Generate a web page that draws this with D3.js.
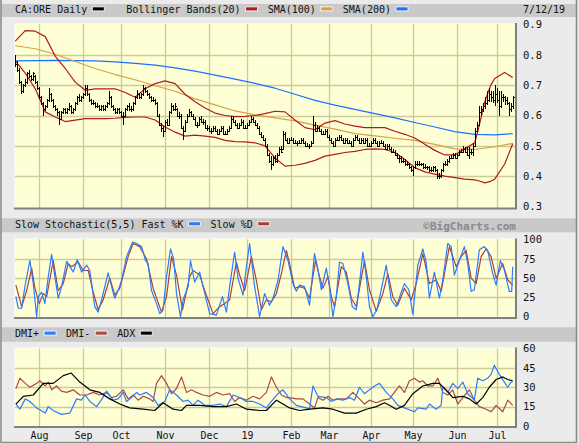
<!DOCTYPE html>
<html>
<head>
<meta charset="utf-8">
<title>CA:ORE Daily</title>
<script src="https://cdn.jsdelivr.net/npm/d3@7"></script>
<style>
  body { margin: 0; background: #ebebeb; }
</style>
</head>
<body>
<script>

// ---- data (index = trading day, 0 = mid Jul 2018, 249 = Jul 12 2019) ----
var monthIdx = [12, 34, 53, 75, 97, 116, 138, 157, 178, 199, 221, 241];
var monthLabels = ["Aug", "Sep", "Oct", "Nov", "Dec", "19", "Feb", "Mar", "Apr", "May", "Jun", "Jul"];

var priceTicks = [0.3, 0.4, 0.5, 0.6, 0.7, 0.8, 0.9];
var stochTicks = [0, 25, 50, 75, 100];
var dmiTicks = [0, 15, 30, 45, 60];

var opens = [
.79,.77,.75,.71,.68,.70,.71,.74,.73,.72, .73,.71,.69,.66,.64,.62,.63,.65,.67,.65,
.63,.62,.61,.59,.61,.62,.61,.62,.63,.61, .62,.64,.66,.65,.66,.67,.69,.67,.65,.64,
.64,.63,.63,.62,.63,.62,.63,.64,.66,.63, .62,.61,.62,.61,.60,.60,.62,.63,.62,.62,
.64,.66,.67,.66,.67,.69,.68,.67,.66,.65, .65,.64,.60,.57,.56,.55,.58,.57,.61,.63,
.62,.62,.60,.60,.56,.55,.58,.60,.61,.60, .59,.57,.57,.59,.58,.58,.56,.56,.55,.55,
.56,.55,.54,.55,.56,.54,.54,.55,.56,.59, .58,.57,.56,.57,.58,.56,.56,.57,.58,.59,
.58,.57,.56,.54,.53,.52,.50,.47,.45,.44, .46,.45,.47,.49,.49,.54,.52,.51,.52,.52,
.51,.51,.51,.51,.52,.51,.50,.50,.50,.51, .57,.55,.56,.55,.54,.54,.55,.53,.52,.51,
.50,.52,.52,.53,.52,.51,.52,.51,.51,.50, .52,.53,.52,.51,.52,.51,.52,.50,.50,.51,
.52,.51,.50,.51,.51,.50,.49,.50,.49,.48, .48,.47,.46,.46,.45,.45,.44,.44,.43,.42,
.43,.44,.44,.44,.44,.43,.43,.43,.42,.42, .43,.42,.40,.40,.42,.44,.44,.45,.46,.46,
.47,.46,.47,.48,.48,.49,.48,.47,.48,.48, .50,.55,.57,.61,.62,.63,.64,.65,.67,.66,
.65,.67,.65,.63,.66,.66,.65,.64,.62,.63];
var highs = [
.80,.78,.755,.715,.705,.72,.745,.75,.735,.745, .735,.715,.695,.665,.645,.635,.655,.69,.675,.655,
.635,.625,.615,.615,.625,.625,.625,.64,.635,.625, .645,.665,.67,.665,.675,.70,.70,.675,.655,.65,
.645,.64,.635,.635,.635,.635,.645,.68,.665,.635, .625,.625,.625,.615,.61,.625,.635,.64,.63,.645,
.665,.685,.675,.675,.70,.695,.685,.675,.665,.66, .655,.645,.605,.575,.565,.585,.59,.615,.64,.635,
.64,.625,.61,.605,.565,.585,.605,.62,.615,.605, .595,.58,.595,.60,.59,.585,.57,.565,.56,.565,
.565,.555,.555,.565,.565,.55,.555,.565,.60,.60, .585,.575,.575,.59,.585,.57,.575,.585,.60,.595,
.585,.575,.565,.545,.535,.525,.505,.475,.465,.465, .47,.475,.495,.50,.55,.545,.525,.525,.53,.525,
.52,.515,.52,.525,.525,.515,.51,.505,.515,.60, .58,.57,.565,.555,.55,.555,.555,.535,.525,.515,
.525,.53,.535,.535,.525,.525,.525,.52,.515,.525, .535,.535,.525,.525,.525,.525,.525,.51,.515,.525,
.525,.515,.515,.52,.515,.505,.505,.505,.495,.49, .485,.475,.47,.465,.46,.455,.45,.445,.435,.435,
.45,.45,.45,.445,.445,.44,.435,.435,.43,.435, .435,.425,.41,.425,.445,.45,.455,.465,.47,.475,
.475,.475,.485,.49,.50,.495,.495,.495,.49,.51, .56,.58,.63,.63,.64,.66,.68,.69,.68,.68,
.70,.69,.68,.68,.67,.665,.66,.645,.64,.665];
var lows = [
.76,.745,.705,.67,.675,.695,.705,.725,.715,.715, .705,.685,.655,.635,.60,.615,.625,.645,.645,.625,
.615,.60,.57,.585,.605,.605,.605,.615,.605,.605, .615,.635,.645,.645,.655,.665,.665,.645,.635,.635,
.625,.625,.615,.615,.615,.615,.625,.635,.625,.615, .605,.605,.605,.595,.57,.595,.615,.615,.61,.615,
.635,.655,.655,.655,.665,.675,.665,.655,.645,.645, .635,.595,.565,.545,.53,.545,.565,.565,.605,.615,
.615,.595,.59,.555,.52,.545,.575,.595,.595,.585, .565,.56,.565,.575,.57,.555,.55,.545,.54,.545,
.545,.535,.535,.545,.535,.535,.535,.545,.555,.575, .565,.555,.555,.565,.555,.555,.555,.565,.575,.575,
.565,.555,.535,.525,.515,.495,.465,.445,.42,.435, .445,.445,.465,.475,.485,.515,.505,.505,.515,.505,
.505,.50,.505,.505,.505,.495,.495,.49,.495,.505, .545,.545,.545,.535,.535,.535,.525,.515,.505,.495,
.495,.515,.515,.515,.505,.505,.505,.505,.495,.495, .515,.515,.505,.505,.505,.505,.495,.495,.495,.505,
.505,.495,.495,.505,.495,.485,.485,.485,.475,.475, .465,.455,.445,.445,.445,.435,.435,.425,.415,.40,
.425,.435,.435,.435,.425,.425,.42,.415,.415,.415, .415,.39,.39,.395,.415,.435,.435,.445,.455,.455,
.455,.455,.465,.475,.475,.475,.465,.455,.47,.465, .50,.545,.57,.60,.61,.62,.635,.645,.645,.64,
.63,.64,.60,.625,.645,.635,.635,.60,.61,.62];
var closes = [
.77,.75,.71,.68,.70,.71,.74,.73,.72,.74, .71,.69,.66,.64,.62,.63,.65,.67,.65,.63,
.62,.61,.59,.61,.62,.61,.62,.63,.61,.62, .64,.66,.65,.66,.67,.69,.67,.65,.64,.64,
.63,.63,.62,.63,.62,.63,.64,.66,.63,.62, .61,.62,.61,.60,.60,.62,.63,.62,.62,.64,
.66,.67,.66,.67,.69,.68,.67,.66,.65,.65, .64,.60,.57,.56,.55,.58,.57,.61,.63,.62,
.63,.60,.60,.56,.55,.58,.60,.61,.60,.59, .57,.57,.59,.58,.58,.56,.56,.55,.55,.56,
.55,.54,.55,.56,.54,.54,.55,.56,.59,.58, .57,.56,.57,.58,.56,.56,.57,.58,.59,.58,
.57,.56,.54,.53,.52,.50,.47,.45,.44,.46, .45,.47,.49,.48,.54,.52,.51,.52,.52,.51,
.51,.51,.51,.52,.51,.50,.50,.50,.51,.57, .55,.56,.55,.54,.54,.55,.53,.52,.51,.50,
.52,.52,.53,.52,.51,.52,.51,.51,.50,.52, .53,.52,.51,.52,.51,.52,.50,.50,.51,.52,
.51,.50,.51,.51,.50,.49,.50,.49,.48,.48, .47,.46,.46,.45,.45,.44,.44,.43,.42,.43,
.44,.44,.44,.44,.43,.43,.43,.42,.42,.43, .42,.40,.40,.42,.44,.44,.45,.46,.46,.47,
.46,.47,.48,.48,.49,.48,.47,.48,.48,.50, .55,.57,.61,.62,.63,.64,.65,.67,.66,.65,
.67,.65,.63,.66,.66,.65,.64,.62,.63,.66];

// bollinger bands (20)
var bbIdx = [0,5,10,15,20,25,30,35,40,45,50,55,60,65,70,75,80,85,90,95,100,105,110,115,120,
  125,130,135,140,145,150,155,160,165,170,175,180,185,190,195,200,205,210,215,220,225,230,232,235,238,240,245,249];
var bbUpper = [.845,.880,.878,.860,.795,.755,.710,.683,.688,.688,.688,.676,.660,.688,.705,.714,.705,.670,.645,.625,.608,.600,.596,.597,.600,
  .606,.614,.612,.585,.560,.553,.575,.583,.572,.565,.560,.560,.560,.548,.538,.526,.505,.485,.470,.470,.490,.510,.560,.645,.700,.722,.742,.725];
var bbLower = [.780,.740,.688,.612,.595,.580,.585,.590,.590,.590,.591,.594,.595,.595,.585,.562,.545,.532,.535,.532,.528,.518,.514,.513,.510,
  .500,.460,.433,.436,.442,.452,.466,.472,.478,.482,.488,.490,.488,.478,.455,.428,.414,.407,.400,.395,.390,.388,.385,.378,.383,.390,.440,.507];

// moving averages
var smaIdx = [0,10,20,30,40,50,60,70,80,90,100,110,120,130,140,150,160,170,180,190,200,210,220,230,240,249];
var sma100 = [.830,.820,.802,.778,.755,.735,.718,.698,.680,.655,.635,.615,.602,.592,.582,.568,.555,.540,.533,.525,.518,.505,.490,.488,.497,.508];
var sma200 = [.780,.781,.782,.781,.780,.777,.772,.766,.757,.746,.733,.720,.706,.690,.670,.650,.634,.620,.606,.592,.577,.562,.547,.538,.536,.540];

// slow stochastic (5,5)
var kIdx = [0.3,1.5,3.2,4.8,7.3,9,10.7,11.5,13.2,14.8, 16.5,18.2,19.8,21.5,23.2,25.7,27.3,29,31,33.2,
  35.7,37.3,39.8,41.5,43.2,46.5,48.2,49.8,51.5,53.2, 55.7,58.7,60.7,63.2,65.2,66.5,68.2,70.7,72.3,74,
  75.7,77.7,79.3,80.7,82.7,84,86.5,87.7,89.8,92.3, 94,97.3,100.7,103.7,105.7,107.3,109.8,111.5,114,115.7,
  117.3,119.8,122.3,124.8,127.3,129,131.5,134,136.5,139, 140.7,142.3,144.8,147.3,149.8,151.5,153.2,155.7,157.3,159,
  160.7,162.3,164,166.5,168.7,170.7,172.3,174,175.7,177.3, 179,181,183.2,185.7,188.2,190.7,192.7,194.8,197,199,
  201.5,204,205.7,207.3,209.8,212.3,214,216.5,218.2,219.8, 222.3,224.8,226.5,228.2,229.8,232.3,234.8,236.5,239,240.7,
  242.8,244.8,247.3,248.5,249];
var kVals = [26,11,11,39,73,43,0,26,32,17, 52,81,52,24,39,72,65,58,74,58,
  67,60,13,6,22,57,39,24,34,47, 78,97,95,91,73,69,34,17,4,9,
  52,88,75,30,0,22,39,73,45,58, 39,4,2,26,6,39,84,50,28,65,
  95,39,0,30,15,24,47,91,73,43, 33,41,39,15,82,61,35,63,39,0,
  26,71,69,43,13,9,43,84,52,13, 0,9,35,67,22,13,28,43,35,3,
  67,88,71,24,58,24,48,95,91,54, 73,91,69,33,35,87,91,86,56,41,
  73,61,33,33,65];
var dIdx = [0.3,3.2,5.7,8.2,9.8,12,14,15.7,19,21.5, 24,26.5,28.2,31.5,34,36.5,39,41.5,44,47.3,
  49.8,52.3,56.5,59,62.3,65.7,69,73.2,75.7,78.2, 80.7,83.7,87.3,89,92.3,94.8,99,102.3,104.8,107.3,
  110.7,112.3,114.8,118.2,120.7,123.2,125.7,128.2,130.7,133.2, 135.7,137.3,139.8,142.3,144.8,147.3,150.3,152.3,154,156.5,
  158.2,159.8,163.2,165.7,168.2,170.7,174.8,177.3,180.7,184, 186.5,189,191.5,194.8,198.2,200.7,204,207.3,210.7,213.2,
  217.3,220.7,223.2,225.7,228.2,230.7,233.2,235.7,238.2,240.7, 244,246.5,249];
var dVals = [41,13,34,63,37,17,30,26,73,34, 43,69,65,71,60,60,32,9,22,50,
  28,37,78,95,91,75,37,6,26,78, 54,9,52,60,54,34,4,13,17,22,
  71,54,34,78,47,9,22,19,30,56, 86,69,37,39,37,24,73,52,37,52,
  26,13,65,58,24,13,73,35,7,30, 56,26,15,37,22,43,82,43,48,33,
  91,65,78,86,50,43,78,88,78,50, 69,48,41];

// DMI
var plusIdx = [0.3,2.3,5,7.3,10.7,15,16.5,19,23,27.3, 30.7,33,35,37.3,40.7,43,45.7,49,51.5,54,
  55.7,58.2,60.7,62.3,65.7,69,71.5,74.8,77.3,80.7, 84,86.5,89,91.5,94.8,99,102.3,105.7,109,112.3,
  115.7,119,122.3,125.7,128.2,131.5,134, 137.3,140.7,145.7,147.3,149,151.5,155.7,158.2,160.7,164,
  167.3,169.8,172.3,174.8,177.3,179.8,182.3,185.7,189,191.5, 194.8,199.8,201.5,205.7,207.3,210.7,213.2,214,216.5,219,
  221.5,224,226.5,229.8,231.5,234,236.5,238.2,239.8,242.3, 244.8,246.5,248.2,249];
var plusVals = [17,13,21,19,14,10,15,12,9,10, 21,20,24,19,15,20,27,20,21,26,
  19,22,26,24,26,22,16,19,28,24, 19,20,16,20,16,16,17,15,24,22,
  19,19,17,14,19,25,28, 21,16,14,13,31,23,22,19,21,20,
  22,20,30,25,28,31,33,26,21,16, 14,11,14,13,17,13,16,30,26,33,
  29,34,25,20,37,35,37,40,47,40, 34,30,34,34];
var minusIdx = [0.3,2.3,5,7.3,10.7,12.3,15,16.5,18.2,20.7, 23,25.7,29,32.3,35.7,39,42.3,45.7,48.2,50.7,
  54,56.5,59,61.5,64,67.3,69,70.7,73.2,75.7, 78.2,80.7,83.2,85.7,88.2,90.7,94,97.3,100.7,104,
  107.3,109.8,112.3,115.7,119,122.3,125.7,128.2,130.7,133.2, 135.7,
  137.3,140.7,144,147.3,149.8,151.5,154,156.5,159,162.3, 165.7,169,172.3,174.8,177.3,180.7,184,187.3,190.7,192.3,
  194.8,197.3,199.8,202.3,204,206.5,209,211.5,214,216.5, 219,221.5,224,227.3,229.8,232.3,235.7,238.2,240.7,244,
  246.5,249];
var minusVals = [29,37,33,30,33,35,31,34,28,31, 27,26,28,24,24,26,24,26,22,23,
  28,21,24,20,23,21,19,33,39,33, 25,29,38,26,28,26,24,23,26,24,
  25,19,22,20,23,21,26,38,30,24, 22,
  22,21,21,17,14,22,20,23,20,21, 21,26,21,17,20,18,20,21,28,31,
  26,35,37,34,35,31,31,37,26,24, 28,17,22,28,20,15,13,11,16,11,
  20,16];
var adxIdx = [0.3,4,9,14,19,24,28,32.3,37.3,42.3,47.3,52.3,57.3,64,69.8,74,79,83.2,85.7,92.3,
  99,105.7,110.7,115.7,122.3,125.7,130.7,134, 137.3,142.3,147.3,154,159,164.8,170.7,175.7,180.7,184.8,
  187.3,190.7,194.8,199,204,209,212.3,215.7,219,224, 227.3,230.7,234,237.3,240.7,244,246.5,249];
var adxVals = [17,23,24,33,33,39,41,34,28,26,21,17,14,13,12,18,13,12,16,16,
  15,15,17,13,12,12,20,17, 14,12,13,14,13,10,10,13,15,18,
  16,13,16,25,31,33,33,28,22,23, 21,17,22,30,36,38,36,35];

// ---- layout ----
var width = 579,
    height = 444,
    plotLeft = 14,
    plotRight = 515,
    plotFill = "#ffffd6",
    gridColor = "#cbcb96",
    headColor = "#c9c9c9",
    font = "DejaVu Sans Mono";

var colors = {bb: "#b01c1c", sma100: "#d8a13e", sma200: "#1f6fff",
              k: "#2a7cff", d: "#a8403a", plus: "#2a7cff", minus: "#a84a44", adx: "#000000"};

var svg = d3.select('body')
  .append('svg')
  .attr('width', width)
  .attr('height', height);

svg.append('rect')
  .attr('width', width)
  .attr('height', height)
  .attr('fill', '#ebebeb');

var x = d3.scaleLinear()
  .domain([0, closes.length - 1])
  .range([15.3, 512.7]);

var panels = [
  {id: 'price', top: 23, bottom: 208, y: d3.scaleLinear().domain([0.3, 0.9]).range([206.5, 24.5]),
   ticks: priceTicks, fmt: d3.format('.1f')},
  {id: 'stoch', top: 238.5, bottom: 317.5, y: d3.scaleLinear().domain([0, 100]).range([316.7, 239.7]),
   ticks: stochTicks, fmt: d3.format('d')},
  {id: 'dmi', top: 347.5, bottom: 426.5, y: d3.scaleLinear().domain([0, 60]).range([426, 348.5]),
   ticks: dmiTicks, fmt: d3.format('d')}
];

var defs = svg.append('defs');

panels.forEach(function(p) {
  defs.append('clipPath').attr('id', 'clip-' + p.id)
    .append('rect')
    .attr('x', plotLeft).attr('y', p.top)
    .attr('width', plotRight - plotLeft).attr('height', p.bottom - p.top);

  svg.append('rect')
    .attr('x', plotLeft).attr('y', p.top)
    .attr('width', plotRight - plotLeft).attr('height', p.bottom - p.top)
    .attr('fill', plotFill);

  var g = svg.append('g').attr('clip-path', 'url(#clip-' + p.id + ')');
  p.g = g;

  // horizontal grid, skip the ends
  g.selectAll('line.hgrid')
    .data(p.ticks.slice(1, -1))
    .enter().append('line')
    .attr('x1', plotLeft).attr('x2', plotRight)
    .attr('y1', function(d) { return Math.round(p.y(d)) + 0.5; })
    .attr('y2', function(d) { return Math.round(p.y(d)) + 0.5; })
    .attr('stroke', gridColor).attr('stroke-width', 1.3);

  // month grid
  g.selectAll('line.vgrid')
    .data(monthIdx)
    .enter().append('line')
    .attr('x1', function(d) { return Math.round(x(d)) + 0.5; })
    .attr('x2', function(d) { return Math.round(x(d)) + 0.5; })
    .attr('y1', p.top).attr('y2', p.bottom)
    .attr('stroke', gridColor).attr('stroke-width', 1.3);

  // right-hand value labels
  svg.selectAll('text.lab-' + p.id)
    .data(p.ticks)
    .enter().append('text')
    .attr('x', 523)
    .attr('y', function(d) { return p.y(d); })
    .attr('dy', '0.36em')
    .attr('font-family', font)
    .attr('font-size', '10.5px')
    .attr('fill', '#111')
    .text(p.fmt);
});

function lineOf(p, idx, vals, color) {
  var line = d3.line()
    .x(function(d) { return x(d[0]); })
    .y(function(d) { return p.y(d[1]); });
  p.g.append('path')
    .datum(d3.zip(idx, vals))
    .attr('d', line)
    .attr('fill', 'none')
    .attr('stroke', color)
    .attr('stroke-width', 1.2)
    .attr('stroke-linejoin', 'round');
}

// price panel: averages + bands under the bars
var pp = panels[0];
lineOf(pp, smaIdx, sma200, colors.sma200);
lineOf(pp, smaIdx, sma100, colors.sma100);
lineOf(pp, bbIdx, bbUpper, colors.bb);
lineOf(pp, bbIdx, bbLower, colors.bb);

// ohlc bars: 1px stem, open tick left, close tick right
pp.g.selectAll('path.bar')
  .data(d3.range(closes.length))
  .enter().append('path')
  .attr('class', 'bar')
  .attr('d', function(i) {
    var cx = Math.round(x(i)) + 0.5;
    return 'M' + cx + ',' + Math.round(pp.y(highs[i])) + 'V' + Math.round(pp.y(lows[i])) +
           'M' + (cx - 1.5) + ',' + (Math.round(pp.y(opens[i])) + 0.5) + 'H' + cx +
           'M' + cx + ',' + (Math.round(pp.y(closes[i])) + 0.5) + 'H' + (cx + 1.5);
  })
  .attr('stroke', '#000')
  .attr('stroke-width', 1)
  .attr('shape-rendering', 'crispEdges')
  .attr('fill', 'none');

// stochastic
lineOf(panels[1], dIdx, dVals, colors.d);
lineOf(panels[1], kIdx, kVals, colors.k);

// dmi
lineOf(panels[2], minusIdx, minusVals, colors.minus);
lineOf(panels[2], plusIdx, plusVals, colors.plus);
lineOf(panels[2], adxIdx, adxVals, colors.adx);

// panel edges: light top/left, dark bottom/right
panels.forEach(function(p) {
  svg.append('path')
    .attr('d', 'M' + (plotLeft + 0.5) + ',' + p.bottom + 'V' + (p.top + 0.5) + 'H' + plotRight)
    .attr('fill', 'none').attr('stroke', '#f6f6f6').attr('stroke-width', 1);
  svg.append('path')
    .attr('d', 'M' + plotLeft + ',' + (p.bottom + 0.5) + 'H' + (plotRight + 1) + 'V' + p.top)
    .attr('fill', 'none').attr('stroke', '#808080').attr('stroke-width', 2);
});

// month labels
svg.selectAll('text.month')
  .data(monthIdx)
  .enter().append('text')
  .attr('x', function(d) { return Math.round(x(d)) + 0.5; })
  .attr('y', 439)
  .attr('text-anchor', 'middle')
  .attr('font-family', font)
  .attr('font-size', '10px')
  .attr('fill', '#111')
  .text(function(d, i) { return monthLabels[i]; });

// header bars with legends
var headers = [
  {top: 4, h: 13, items: [["CA:ORE Daily", "#000"], ["Bollinger Bands(20)", colors.bb],
                          ["SMA(100)", colors.sma100], ["SMA(200)", colors.sma200]], firstGap: 22},
  {top: 218.3, h: 14, items: [["Slow Stochastic(5,5) Fast %K", colors.k], ["Slow %D", colors.d]], firstGap: 10},
  {top: 327.3, h: 14.5, items: [["DMI+", colors.plus], ["DMI-", colors.minus], ["ADX", colors.adx]], firstGap: 10}
];

headers.forEach(function(hd) {
  svg.append('rect')
    .attr('x', 1).attr('y', hd.top)
    .attr('width', 575).attr('height', hd.h)
    .attr('fill', headColor);

  var base = hd.top + 8.9 + (hd.h - 13) * 0.6;
  var cx = 15;
  hd.items.forEach(function(it, i) {
    var t = svg.append('text')
      .attr('x', cx).attr('y', base)
      .attr('font-family', font)
      .attr('font-size', '10px')
      .attr('fill', '#111')
      .text(it[0]);
    cx += t.node().getComputedTextLength() + 5;
    svg.append('rect')
      .attr('x', cx).attr('y', base - 6)
      .attr('width', 12).attr('height', 4)
      .attr('fill', it[1])
      .attr('stroke', '#fff').attr('stroke-width', 0.8);
    cx += 12 + (i == 0 ? hd.firstGap : 10);
  });
});

svg.append('text')
  .attr('x', 523).attr('y', 13)
  .attr('font-family', font)
  .attr('font-size', '10px')
  .attr('fill', '#111')
  .text('7/12/19');

svg.append('text')
  .attr('x', 516).attr('y', 229.5)
  .attr('text-anchor', 'end')
  .attr('font-family', font)
  .attr('font-weight', 'bold')
  .attr('font-size', '11px')
  .attr('fill', '#8a8a8a')
  .text('\u00a9BigCharts.com');

// outer frame
svg.append('path')
  .attr('d', 'M1,0V442.5H576.5V0')
  .attr('fill', 'none')
  .attr('stroke', '#8e8e8e')
  .attr('stroke-width', 1.6);

</script>
</body>
</html>
